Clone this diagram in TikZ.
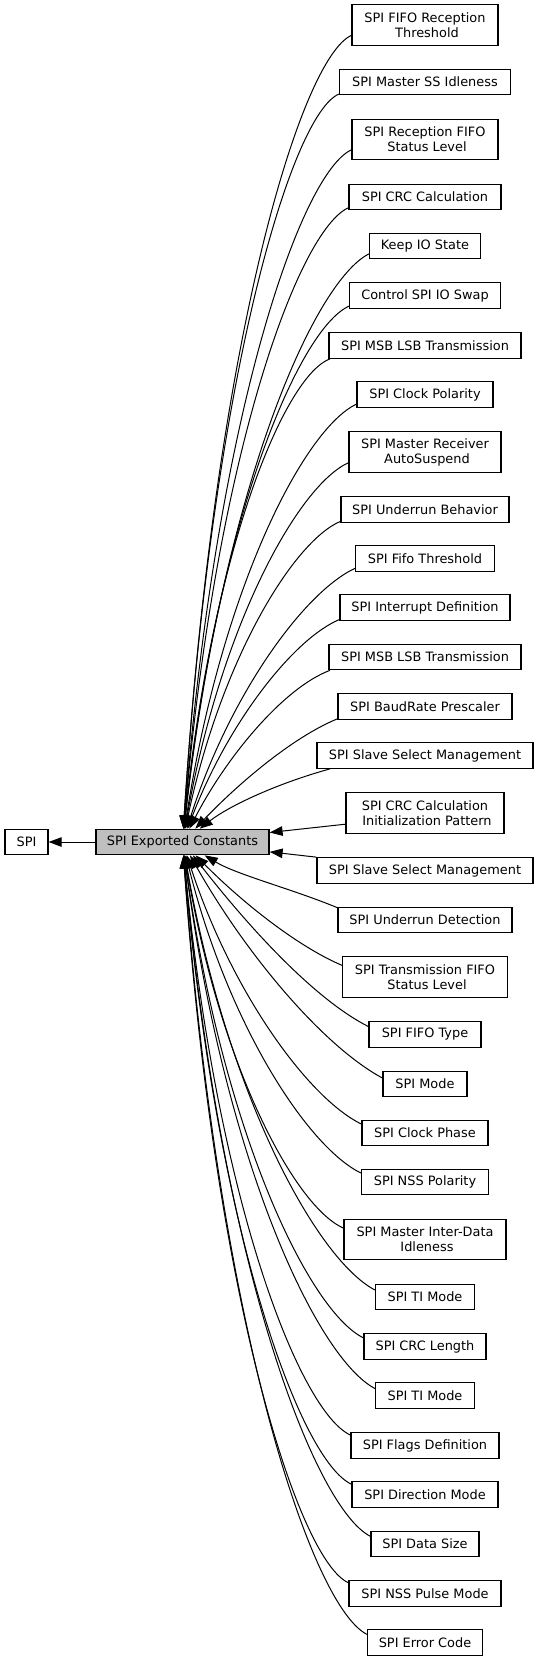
\documentclass[tikz,border=0pt]{standalone}
\usepackage{fontspec}
\setmainfont{DejaVu Sans}
\usetikzlibrary{arrows.meta}
\newcommand{\topedge}[3]{%
  \pgfmathsetmacro{\edL}{425-#3/2}%
  \pgfmathsetmacro{\edDX}{\edL-182.5}%
  \pgfmathsetmacro{\edD}{abs(842-#2)}%
  \pgfmathsetmacro{\edR}{min(1,\edDX/\edD)}%
  \pgfmathsetmacro{\edAX}{\edL-0.3*\edDX}%
  \pgfmathsetmacro{\edAY}{#2+8+0.15*\edDX}%
  \pgfmathsetmacro{\edBX}{182.5+(0.15+0.2*\edR)*\edDX}%
  \pgfmathsetmacro{\edBY}{#2+(0.33+0.25*\edR)*\edD}%
  \draw[edge] (#1.188) .. controls (\edAX,\edAY) and (\edBX,\edBY) .. (C);%
}
\newcommand{\botedge}[3]{%
  \pgfmathsetmacro{\edL}{425-#3/2}%
  \pgfmathsetmacro{\edDX}{\edL-182.5}%
  \pgfmathsetmacro{\edD}{abs(842-#2)}%
  \pgfmathsetmacro{\edR}{min(1,\edDX/\edD)}%
  \pgfmathsetmacro{\edAX}{\edL-0.3*\edDX}%
  \pgfmathsetmacro{\edAY}{#2-8-0.15*\edDX}%
  \pgfmathsetmacro{\edBX}{182.5+(0.15+0.2*\edR)*\edDX}%
  \pgfmathsetmacro{\edBY}{#2-(0.33+0.25*\edR)*\edD}%
  \draw[edge] (#1.172) .. controls (\edAX,\edAY) and (\edBX,\edBY) .. (C);%
}
\begin{document}
\begin{tikzpicture}[x=1pt,y=-1pt,
  box/.style={draw=black, line width=1.2pt, fill=white, inner sep=0pt,
    minimum height=25.5pt, font=\fontsize{12.9pt}{15pt}\selectfont, align=center},
  dbox/.style={box, minimum height=40.5pt},
  edge/.style={line width=1pt, -{Triangle[length=13pt,width=9.5pt]}}]
\useasboundingbox (0,0) rectangle (539,1661);
\node[box, minimum width=43pt] (spi) at (26.5,842) {SPI};
\node[box, minimum width=173pt, fill={rgb,255:red,191;green,191;blue,191}] (C) at (182.5,842) {SPI Exported Constants};
\node[dbox, minimum width=146pt] (a1) at (425,25) {SPI FIFO Reception\\\hspace*{4pt}Threshold};
\node[box, minimum width=171pt] (a2) at (425,82) {SPI Master SS Idleness};
\node[dbox, minimum width=146pt] (a3) at (425,139.5) {SPI Reception FIFO\\\hspace*{4pt}Status Level};
\node[box, minimum width=152pt] (a4) at (425,197) {SPI CRC Calculation};
\node[box, minimum width=111pt] (a5) at (425,246) {Keep IO State};
\node[box, minimum width=151pt] (a6) at (425,295.5) {Control SPI IO Swap};
\node[box, minimum width=192pt] (a7) at (425,345.5) {SPI MSB LSB Transmission};
\node[box, minimum width=136pt] (a8) at (425,394.5) {SPI Clock Polarity};
\node[dbox, minimum width=152pt] (a9) at (425,452) {SPI Master Receiver\\\hspace*{4pt}AutoSuspend};
\node[box, minimum width=168pt] (a10) at (425,509.5) {SPI Underrun Behavior};
\node[box, minimum width=139pt] (a11) at (425,558.5) {SPI Fifo Threshold};
\node[box, minimum width=170pt] (a12) at (425,607.5) {SPI Interrupt Definition};
\node[box, minimum width=192pt] (a13) at (425,657) {SPI MSB LSB Transmission};
\node[box, minimum width=174pt] (a14) at (425,706.5) {SPI BaudRate Prescaler};
\node[box, minimum width=216pt] (a15) at (425,755.5) {SPI Slave Select Management};
\node[dbox, minimum width=158pt] (a16) at (425,813) {SPI CRC Calculation\\\hspace*{4pt}Initialization Pattern};
\node[box, minimum width=216pt] (a17) at (425,870.5) {SPI Slave Select Management};
\node[box, minimum width=174pt] (a18) at (425,920) {SPI Underrun Detection};
\node[dbox, minimum width=165pt] (a19) at (425,977) {SPI Transmission FIFO\\\hspace*{4pt}Status Level};
\node[box, minimum width=112pt] (a20) at (425,1034.5) {SPI FIFO Type};
\node[box, minimum width=84pt] (a21) at (425,1084) {SPI Mode};
\node[box, minimum width=126pt] (a22) at (425,1133) {SPI Clock Phase};
\node[box, minimum width=127pt] (a23) at (425,1182) {SPI NSS Polarity};
\node[dbox, minimum width=162pt] (a24) at (425,1239.5) {SPI Master Inter-Data\\\hspace*{4pt}Idleness};
\node[box, minimum width=99pt] (a25) at (425,1297) {SPI TI Mode};
\node[box, minimum width=122pt] (a26) at (425,1346.5) {SPI CRC Length};
\node[box, minimum width=99pt] (a27) at (425,1395.5) {SPI TI Mode};
\node[box, minimum width=148pt] (a28) at (425,1445.5) {SPI Flags Definition};
\node[box, minimum width=146pt] (a29) at (425,1494.5) {SPI Direction Mode};
\node[box, minimum width=108pt] (a30) at (425,1544) {SPI Data Size};
\node[box, minimum width=152pt] (a31) at (425,1593.5) {SPI NSS Pulse Mode};
\node[box, minimum width=115pt] (a32) at (425,1642.5) {SPI Error Code};
\draw[edge] (C) -- (spi);
\topedge{a1}{25}{146}
\topedge{a2}{82}{171}
\topedge{a3}{139.5}{146}
\topedge{a4}{197}{152}
\topedge{a5}{246}{111}
\topedge{a6}{295.5}{151}
\topedge{a7}{345.5}{192}
\topedge{a8}{394.5}{136}
\topedge{a9}{452}{152}
\topedge{a10}{509.5}{168}
\topedge{a11}{558.5}{139}
\topedge{a12}{607.5}{170}
\topedge{a13}{657}{192}
\topedge{a14}{706.5}{174}
\topedge{a15}{755.5}{216}
\draw[edge] (a16.188) -- (C);
\draw[edge] (a17.north west) -- (C);
\botedge{a18}{920}{174}
\botedge{a19}{977}{165}
\botedge{a20}{1034.5}{112}
\botedge{a21}{1084}{84}
\botedge{a22}{1133}{126}
\botedge{a23}{1182}{127}
\botedge{a24}{1239.5}{162}
\botedge{a25}{1297}{99}
\botedge{a26}{1346.5}{122}
\botedge{a27}{1395.5}{99}
\botedge{a28}{1445.5}{148}
\botedge{a29}{1494.5}{146}
\botedge{a30}{1544}{108}
\botedge{a31}{1593.5}{152}
\botedge{a32}{1642.5}{115}
\end{tikzpicture}
\end{document}
